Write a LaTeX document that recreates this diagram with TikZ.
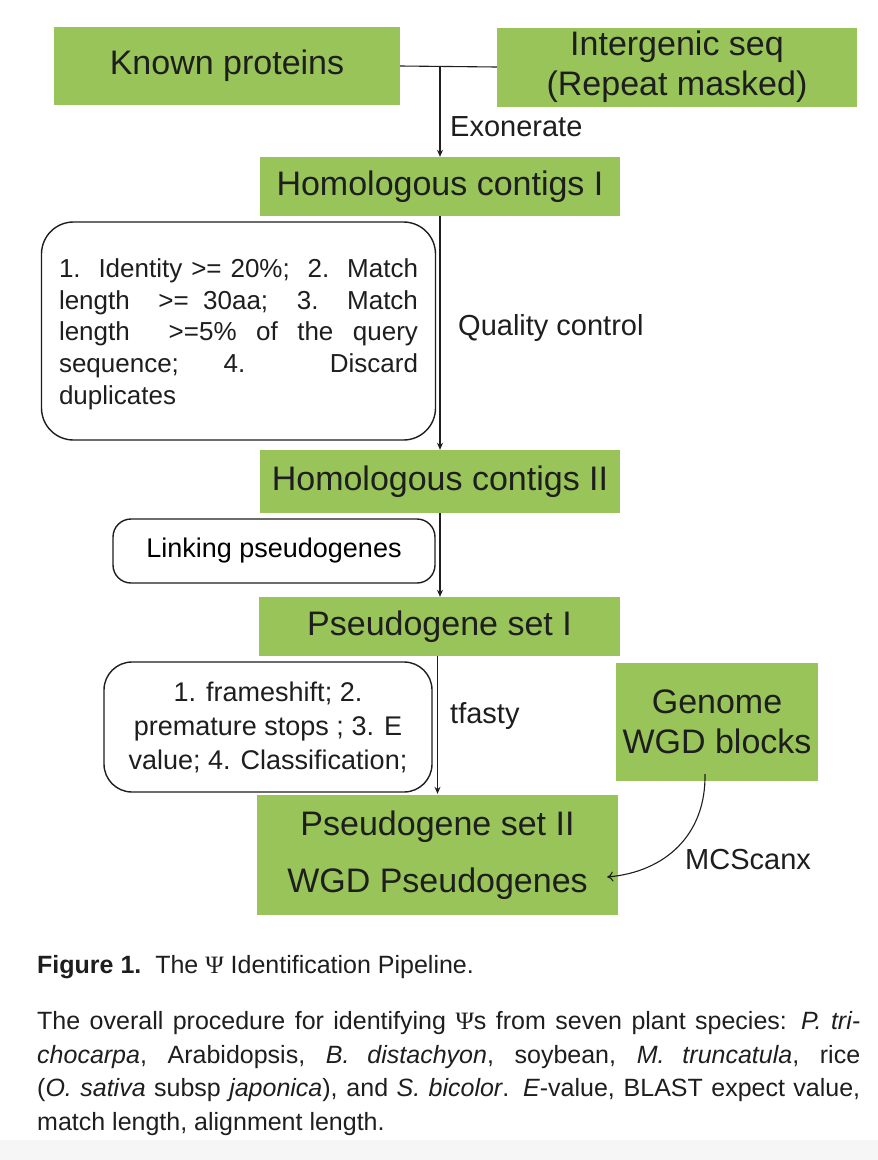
\documentclass[tikz,border=0pt]{standalone}
\usepackage{fontspec}
\setmainfont{Liberation Sans}
\newfontfamily\psifont{Liberation Serif}
\usetikzlibrary{arrows.meta}
\definecolor{boxgreen}{RGB}{152,196,89}
\definecolor{ink}{RGB}{30,30,30}
\tikzset{
  gbox/.style={fill=boxgreen, draw=none, inner sep=0pt, align=center, text=ink},
  rbox/.style={draw=ink, line width=1.4pt, inner sep=0pt},
  flow/.style={draw=ink, line width=1.1pt},
  arr/.style={flow, -{Stealth[length=7pt,width=6pt]}},
  carr/.style={flow, -{To[length=6pt,width=10pt]}},
  lbl/.style={anchor=west, inner sep=0pt, text=ink},
  big/.style={font=\fontsize{34}{40}\selectfont},
  mid/.style={font=\fontsize{29}{34}\selectfont},
  sml/.style={font=\fontsize{27}{34}\selectfont},
}
\begin{document}
\begin{tikzpicture}[x=1pt,y=-1pt]
\useasboundingbox (0,0) rectangle (878,1160);
\fill[white] (0,0) rectangle (878,1160);
\fill[gray!7] (0,1140) rectangle (878,1160);

% green boxes
\node[gbox, big, minimum width=346pt, minimum height=78pt] (kp) at (227,66) {Known proteins};
\node[gbox, big, minimum width=360pt, minimum height=79pt] (ig) at (677,67) {Intergenic seq\\(Repeat masked)};
\node[gbox, big, minimum width=360pt, minimum height=59pt] (hc1) at (440,186.5) {Homologous contigs I};
\node[gbox, big, minimum width=360pt, minimum height=63pt] (hc2) at (440,481.5) {Homologous contigs II};
\node[gbox, big, minimum width=361pt, minimum height=59pt] (ps1) at (439.5,626.5) {Pseudogene set I};
\node[gbox, big, minimum width=202pt, minimum height=118pt] (gw) at (717,722) {Genome\\WGD blocks};
\node[gbox, big, minimum width=361pt, minimum height=120pt] (ps2) at (437.5,855) {Pseudogene set II\\[17pt]WGD Pseudogenes};

% rounded boxes
\node[rbox, rounded corners=32pt, minimum width=394pt, minimum height=218pt] (rb1) at (238.5,331) {};
\node[text width=359pt, inner sep=0pt, align=justify, text=ink, font=\fontsize{26}{31.7}\selectfont] (rb1t) at (238.5,334)
 {\makebox[\linewidth][s]{1.\ \ Identity >= 20\%;\ \ 2.\ \ Match}\\
  \makebox[\linewidth][s]{length \ >= 30aa;\ \ 3.\ \ Match}\\
  \makebox[\linewidth][s]{length \ >=5\% of the query}\\
  \makebox[\linewidth][s]{sequence; 4. Discard}\\
  duplicates};
\node[rbox, rounded corners=18pt, minimum width=322pt, minimum height=64pt, sml] (rb2) at (274,551) {Linking pseudogenes};
\node[rbox, rounded corners=28pt, minimum width=328pt, minimum height=130pt, sml, align=center, text=ink] (rb3) at (268,727)
 {1. frameshift; 2.\\premature stops ; 3. E\\value; 4. Classification;};

% connectors
\draw[flow] (kp.east) -- (ig.west);
\coordinate (j) at (440,66);
\draw[arr] (j) -- (hc1.north);
\draw[arr] (hc1.south) -- (hc2.north);
\draw[arr] (hc2.south) -- ([xshift=0.5pt]ps1.north);
\draw[arr] (ps2.north |- ps1.south) -- ([yshift=1pt]ps2.north);
\draw[carr] ([xshift=-12pt,yshift=7pt]gw.south) .. controls (706,835) and (665,872) .. ([xshift=-11pt,yshift=-22pt]ps2.east);

% labels
\node[lbl, mid] (l1) at (450,127) {Exonerate};
\node[lbl, mid] (l2) at (458,328) {Quality control};
\node[lbl, mid] (l3) at (450,716) {tfasty};
\node[lbl, mid] (l4) at (685,860) {MCScanx};

% caption
\node[lbl, font=\fontsize{25}{33.5}\selectfont] (cap) at (37,967) {\textbf{Figure 1.}\ \ The {\psifont Ψ} Identification Pipeline.};
\node[anchor=north west, inner sep=0pt, text width=823pt, align=justify, text=ink, font=\fontsize{25}{33.5}\selectfont] (para) at (37,1006)
 {\strut\makebox[\linewidth][s]{The overall procedure for identifying {\psifont Ψ}s from seven plant species: \textit{P. tri-}}\\
  \makebox[\linewidth][s]{\textit{chocarpa}, Arabidopsis, \textit{B. distachyon}, soybean, \textit{M. truncatula}, rice}\\
  \makebox[\linewidth][s]{(\textit{O. sativa} subsp \textit{japonica}), and \textit{S. bicolor}. \textit{E}-value, BLAST expect value,}\\
  match length, alignment length.};
\end{tikzpicture}
\end{document}
